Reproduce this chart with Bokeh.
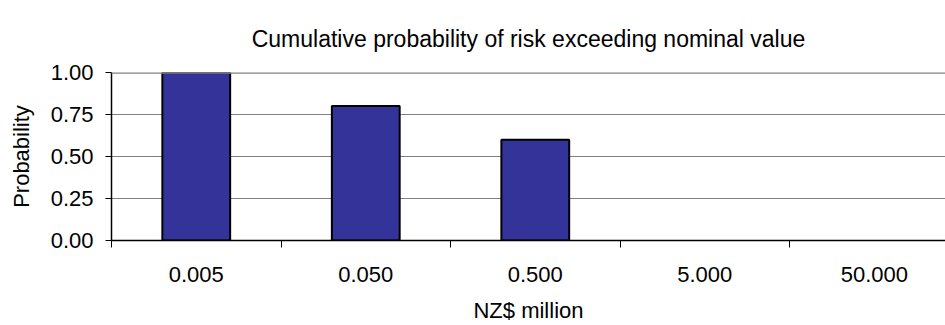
from bokeh.plotting import figure
from bokeh.models import (FixedTicker, Range1d, NumeralTickFormatter, Span,
                          ColumnDataSource)
from bokeh.embed import file_html
from bokeh.resources import INLINE

# Loss thresholds (NZ$ million) and probability of exceeding each
thresholds = ["0.005", "0.050", "0.500", "5.000", "50.000"]
probability = [1.00, 0.80, 0.60, 0.0, 0.0]
y_ticks = [0.0, 0.25, 0.5, 0.75, 1.0]
heading_text = "Cumulative probability of risk exceeding nominal value"

FONT = "Liberation Sans"

centers = [i + 0.5 for i in range(len(thresholds))]
bounds = [float(i) for i in range(len(thresholds) + 1)]

p = figure(
    width=945, height=325,
    output_backend="svg", toolbar_location=None,
    x_range=Range1d(0, 4.92), y_range=Range1d(0, 1.0),
    min_border_left=111, min_border_right=0,
    min_border_top=72, min_border_bottom=84,
    title=heading_text,
)
p.outline_line_color = None
p.background_fill_color = "white"
p.border_fill_color = "white"

# heading centred over the full category span, lifted clear of the plot
p.title.align = "center"
p.title.offset = 6
p.title.standoff = 42
p.title.text_font = FONT
p.title.text_font_size = "23px"
p.title.text_font_style = "normal"
p.title.text_color = "black"

p.ygrid.grid_line_color = "#808080"
p.ygrid.grid_line_width = 1
p.ygrid.ticker = FixedTicker(ticks=y_ticks[1:])
p.xgrid.grid_line_color = None
# heavier rule along the top of the plot area
p.add_layout(Span(location=y_ticks[-1], dimension="width",
                  line_color="#808080", line_width=2.5))

# bars; empty categories get no outline
src = ColumnDataSource(dict(
    x=centers, top=probability,
    outline=["black" if v > 0 else None for v in probability],
))
p.vbar(x="x", top="top", width=0.4, bottom=0, source=src,
       fill_color="#333399", line_color="outline", line_width=2)

# x axis: labels centred on categories, ticks on category boundaries
xa = p.xaxis[0]
xa.ticker = FixedTicker(ticks=centers, minor_ticks=bounds)
xa.major_label_overrides = {c: t for c, t in zip(centers, thresholds)}
xa.major_tick_line_color = None
xa.major_tick_out = 0
xa.major_tick_in = 0
xa.minor_tick_line_color = "black"
xa.minor_tick_out = 7
xa.minor_tick_in = 0
xa.major_label_standoff = 19
xa.axis_line_color = "black"
xa.axis_line_width = 1.5
xa.axis_label = "NZ$ million"
xa.axis_label_standoff = 13

# y axis
ya = p.yaxis[0]
ya.ticker = FixedTicker(ticks=y_ticks)
ya.formatter = NumeralTickFormatter(format="0.00")
ya.major_tick_out = 6
ya.major_tick_in = 0
ya.minor_tick_line_color = None
ya.major_label_standoff = 12
ya.axis_line_color = "black"
ya.axis_line_width = 1.5
ya.axis_label = "Probability"
ya.axis_label_standoff = 14

for ax in (xa, ya):
    ax.major_label_text_font = FONT
    ax.major_label_text_font_size = "22px"
    ax.major_label_text_color = "black"
    ax.axis_label_text_font = FONT
    ax.axis_label_text_font_size = "22px"
    ax.axis_label_text_font_style = "normal"
    ax.axis_label_text_color = "black"

open("out.html", "w").write(file_html(p, INLINE))
